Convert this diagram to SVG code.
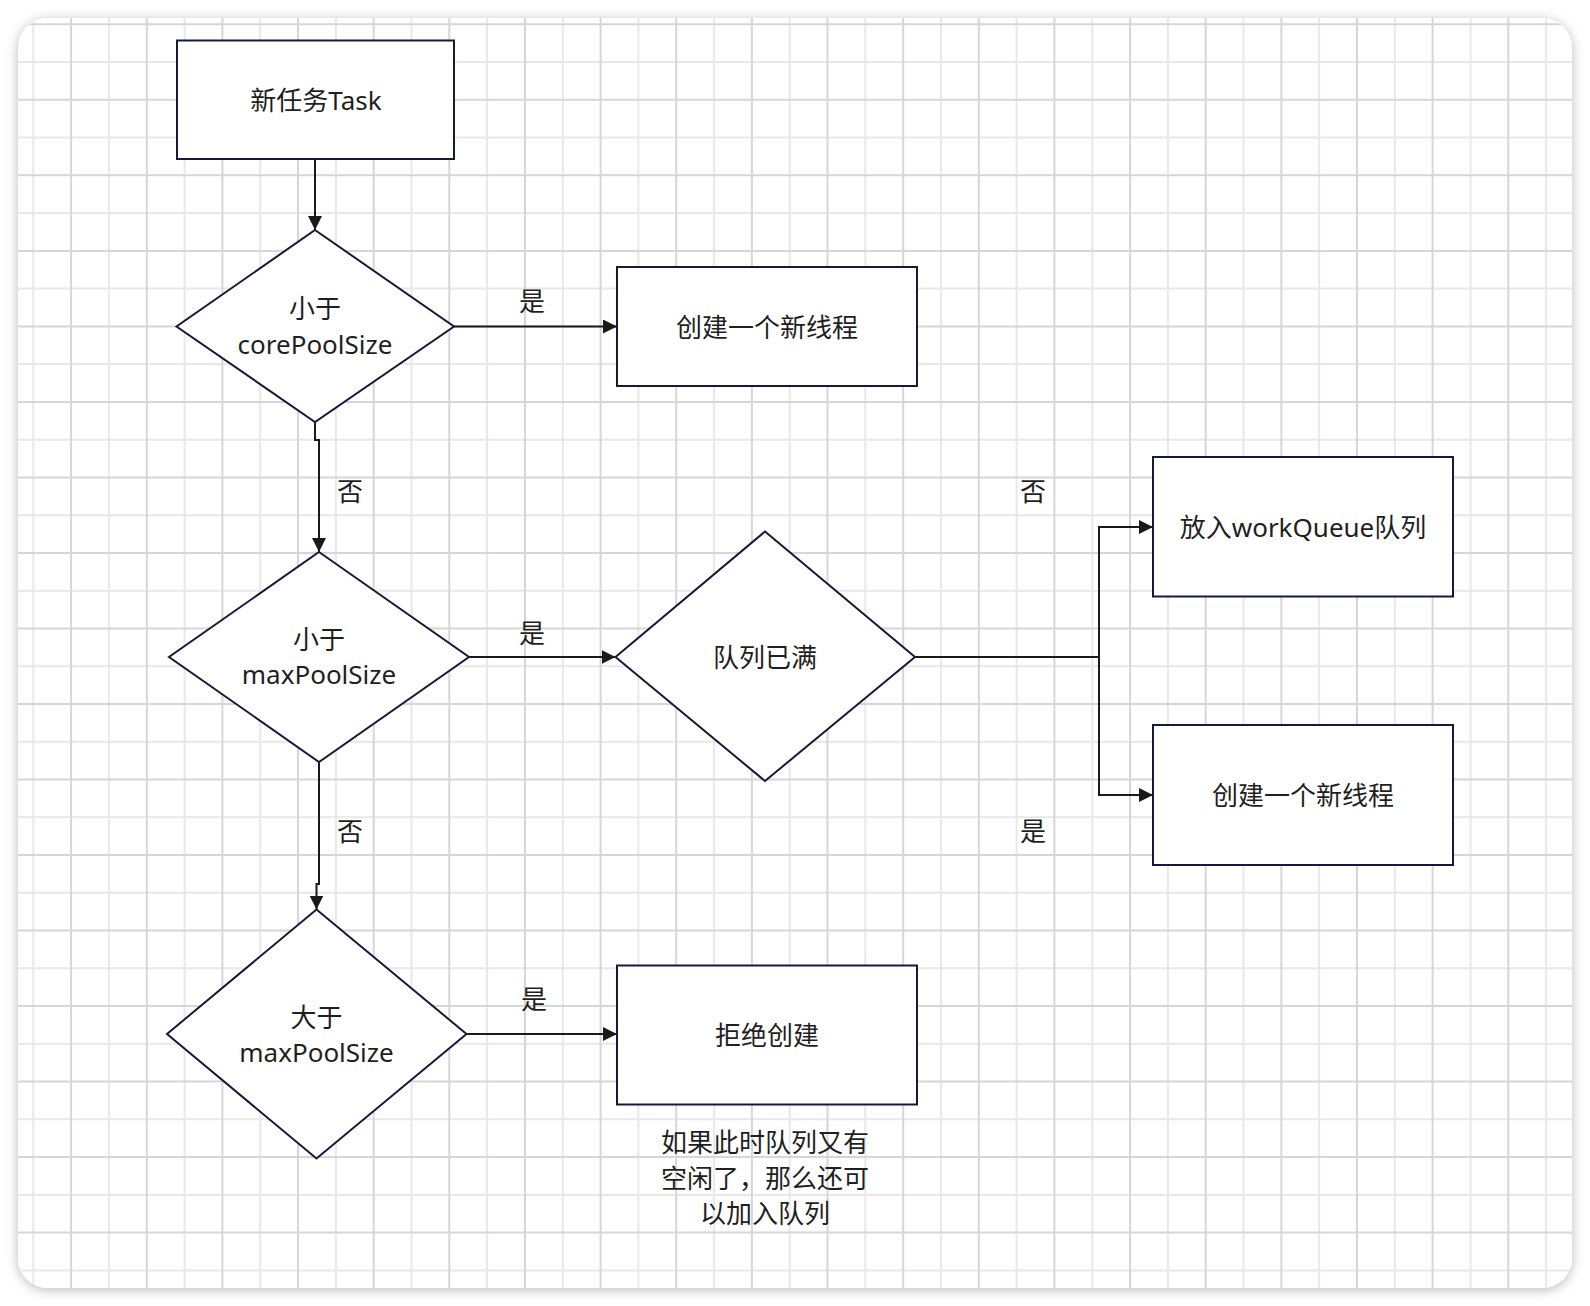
<svg xmlns="http://www.w3.org/2000/svg" width="1590" height="1306" viewBox="0 0 1590 1306">
<defs>
<filter id="sh" x="-5%" y="-5%" width="110%" height="110%">
<feDropShadow dx="0" dy="2" stdDeviation="6" flood-color="#000" flood-opacity="0.28"/>
</filter>
<clipPath id="cardclip"><rect x="18" y="18" width="1554" height="1270" rx="30" ry="30"/></clipPath>
<marker id="arr" markerUnits="userSpaceOnUse" markerWidth="15" markerHeight="15" refX="14" refY="7" orient="auto">
<path d="M0,0 L14,7 L0,14 Z" fill="#1a1a1a"/>
</marker>
<style>
.node{fill:#ffffff;stroke:#141a3a;stroke-width:2}
.edge{fill:none;stroke:#1a1a1a;stroke-width:2}
.t{font-family:"Noto Sans","Noto Sans CJK SC",sans-serif;font-size:26px;fill:#1f1f1f;text-anchor:middle}
.gl{fill:none;stroke:#e8e8e8;stroke-width:2}
.gd{fill:none;stroke:#d6d6d6;stroke-width:2}
</style>
</defs>
<rect width="1590" height="1306" fill="#ffffff"/>
<rect x="18" y="18" width="1554" height="1270" rx="30" ry="30" fill="#ffffff" filter="url(#sh)"/>
<g id="grid" clip-path="url(#cardclip)">
<path class="gl" d="M33.3 18V1288M108.9 18V1288M184.6 18V1288M260.2 18V1288M335.9 18V1288M411.5 18V1288M487.1 18V1288M562.8 18V1288M638.4 18V1288M714.1 18V1288M789.7 18V1288M865.3 18V1288M941 18V1288M1016.6 18V1288M1092.3 18V1288M1167.9 18V1288M1243.5 18V1288M1319.2 18V1288M1394.8 18V1288M1470.5 18V1288M1546.1 18V1288"/>
<path class="gl" d="M18 62.1H1572M18 137.6H1572M18 213.1H1572M18 288.6H1572M18 364.1H1572M18 439.7H1572M18 515.2H1572M18 590.7H1572M18 666.2H1572M18 741.7H1572M18 817.3H1572M18 892.8H1572M18 968.3H1572M18 1043.8H1572M18 1119.3H1572M18 1194.9H1572M18 1270.4H1572"/>
<path class="gd" d="M71.1 18V1288M146.8 18V1288M222.4 18V1288M298 18V1288M373.7 18V1288M449.3 18V1288M525 18V1288M600.6 18V1288M676.2 18V1288M751.9 18V1288M827.5 18V1288M903.2 18V1288M978.8 18V1288M1054.4 18V1288M1130.1 18V1288M1205.7 18V1288M1281.4 18V1288M1357 18V1288M1432.6 18V1288M1508.3 18V1288"/>
<path class="gd" d="M18 24.3H1572M18 99.8H1572M18 175.3H1572M18 250.9H1572M18 326.4H1572M18 401.9H1572M18 477.4H1572M18 552.9H1572M18 628.5H1572M18 704H1572M18 779.5H1572M18 855H1572M18 930.5H1572M18 1006.1H1572M18 1081.6H1572M18 1157.1H1572M18 1232.6H1572"/>
</g>
<g id="connectors">
<path class="edge" d="M315 159V230" marker-end="url(#arr)"/>
<path class="edge" d="M454 326.5H617" marker-end="url(#arr)"/>
<path class="edge" d="M315 422V440H319V552" marker-end="url(#arr)"/>
<path class="edge" d="M469 657H615.5" marker-end="url(#arr)"/>
<path class="edge" d="M319 762V884H316.5V909.5" marker-end="url(#arr)"/>
<path class="edge" d="M915 657H1099V527H1153" marker-end="url(#arr)"/>
<path class="edge" d="M1099 657V795H1153" marker-end="url(#arr)"/>
<path class="edge" d="M466.5 1034H617" marker-end="url(#arr)"/>
<text class="t" x="532" y="311">是</text>
<text class="t" x="350" y="501">否</text>
<text class="t" x="532" y="643">是</text>
<text class="t" x="350" y="841">否</text>
<text class="t" x="1033" y="501">否</text>
<text class="t" x="1033" y="841">是</text>
<text class="t" x="534" y="1009">是</text>
</g>
<g id="n_start">
<rect class="node" x="177" y="40.5" width="277" height="118.5"/>
<text class="t" x="316" y="110">新任务Task</text>
</g>
<g id="n_core">
<polygon class="node" points="315,230 454,326.5 315,422 176.5,326.5"/>
<text class="t" x="315" y="318">小于</text>
<text class="t" x="315" y="354">corePoolSize</text>
</g>
<g id="n_create1">
<rect class="node" x="617" y="267" width="300" height="119"/>
<text class="t" x="767" y="337">创建一个新线程</text>
</g>
<g id="n_max">
<polygon class="node" points="319,552 469,657 319,762 169,657"/>
<text class="t" x="319" y="649">小于</text>
<text class="t" x="319" y="684">maxPoolSize</text>
</g>
<g id="n_full">
<polygon class="node" points="765,531.5 915,657 765,781 615.5,657"/>
<text class="t" x="765" y="667">队列已满</text>
</g>
<g id="n_queue">
<rect class="node" x="1153" y="457" width="300" height="139.5"/>
<text class="t" x="1303" y="537">放入workQueue队列</text>
</g>
<g id="n_create2">
<rect class="node" x="1153" y="725" width="300" height="140"/>
<text class="t" x="1303" y="805">创建一个新线程</text>
</g>
<g id="n_gtmax">
<polygon class="node" points="316.5,909.5 466.5,1034 316.5,1158.5 167,1034"/>
<text class="t" x="316.5" y="1027">大于</text>
<text class="t" x="316.5" y="1062">maxPoolSize</text>
</g>
<g id="n_reject">
<rect class="node" x="617" y="965.5" width="300" height="139"/>
<text class="t" x="767" y="1045">拒绝创建</text>
</g>
<g id="n_note">
<text class="t" x="765" y="1152">如果此时队列又有</text>
<text class="t" x="765" y="1188">空闲了，那么还可</text>
<text class="t" x="765" y="1223">以加入队列</text>
</g>
</svg>
